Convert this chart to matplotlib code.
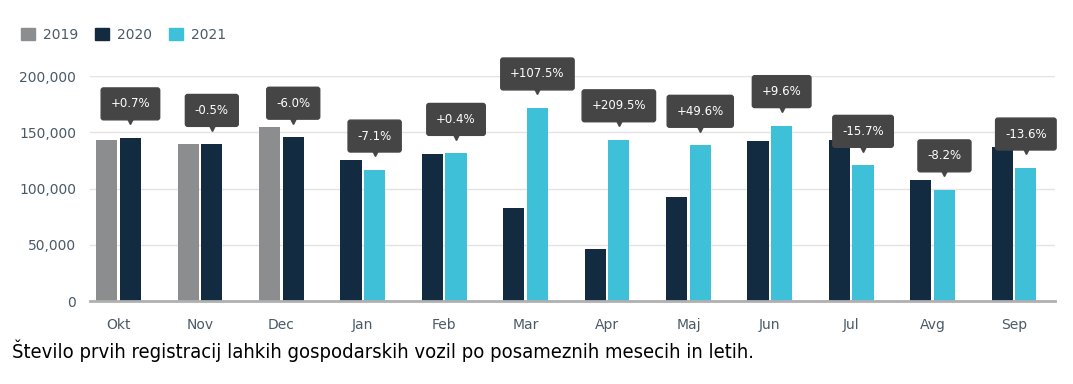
import matplotlib
matplotlib.use("Agg")
import matplotlib.pyplot as plt
import numpy as np
from matplotlib.patches import Patch
from matplotlib.transforms import offset_copy

months = ["Okt", "Nov", "Dec", "Jan", "Feb", "Mar", "Apr", "Maj", "Jun", "Jul", "Avg", "Sep"]
# values per month (left bar = previous year, right bar = following year)
sales_2019 = [143000, 139600, 154700, None, None, None, None, None, None, None, None, None]
sales_2020_a = [145000, 139200, 145600, None, None, None, None, None, None, None, None, None]
sales_2020_b = [None, None, None, 125300, 130700, 82700, 46300, 92500, 142200, 143100, 107600, 136800]
sales_2021 = [None, None, None, 116400, 131200, 171600, 143300, 138400, 155900, 120600, 98800, 118200]
changes = ["+0.7%", "-0.5%", "-6.0%", "-7.1%", "+0.4%", "+107.5%", "+209.5%",
           "+49.6%", "+9.6%", "-15.7%", "-8.2%", "-13.6%"]

c2019 = "#8b8d8f"
c2020 = "#132b40"
c2021 = "#3ec0d8"
txt = "#4b5a66"
box = "#454545"

fig = plt.figure(figsize=(10.73, 3.84), dpi=100)
ax = fig.add_axes([0.084, 0.216, 0.899, 0.586])

x = np.arange(len(months))
w = 0.26
off = 0.145

pointer = offset_copy(ax.transData, fig, x=0, y=12, units="points")

for i in range(len(months)):
    if sales_2019[i] is not None:
        ax.bar(x[i] - off, sales_2019[i], w, color=c2019, zorder=2)
        ax.bar(x[i] + off, sales_2020_a[i], w, color=c2020, zorder=2)
        right = sales_2020_a[i]
    else:
        ax.bar(x[i] - off, sales_2020_b[i], w, color=c2020, zorder=2)
        ax.bar(x[i] + off, sales_2021[i], w, color=c2021, zorder=2)
        right = sales_2021[i]
    # change label box with small pointer
    ax.annotate(changes[i], xy=(x[i] + off, right), xytext=(0, 24.5),
                textcoords="offset points", ha="center", va="center",
                color="white", fontsize=8.5,
                bbox=dict(boxstyle="round,pad=0.8,rounding_size=0.2", fc=box, ec=box),
                annotation_clip=False, zorder=5)
    ax.plot([x[i] + off], [right], marker="v", markersize=5, color=box,
            transform=pointer, clip_on=False, zorder=5)

ax.set_xlim(-0.35, 11.5)
ax.set_ylim(0, 200000)
ax.set_yticks([0, 50000, 100000, 150000, 200000])
ax.set_yticklabels(["0", "50,000", "100,000", "150,000", "200,000"], color=txt, fontsize=10)
ax.set_xticks(x)
ax.set_xticklabels(months, color=txt, fontsize=10)
ax.tick_params(axis="both", length=0)
ax.tick_params(axis="x", pad=12)
ax.tick_params(axis="y", pad=10)
ax.grid(axis="y", color="#e3e3e3", linewidth=1, zorder=0)
for s in ["top", "right", "left"]:
    ax.spines[s].set_visible(False)
ax.spines["bottom"].set_color("#b0b0b0")
ax.spines["bottom"].set_linewidth(2)

handles = [Patch(color=c2019, label="2019"), Patch(color=c2020, label="2020"), Patch(color=c2021, label="2021")]
leg = fig.legend(handles=handles, loc="upper left", bbox_to_anchor=(0.008, 0.96), ncol=3,
                 frameon=False, fontsize=10, handlelength=1.0, handleheight=1.0,
                 handletextpad=0.6, columnspacing=1.2)
for t in leg.get_texts():
    t.set_color(txt)

fig.text(0.011, 0.068, "Število prvih registracij lahkih gospodarskih vozil po posameznih mesecih in letih.",
         fontsize=14.5, color="black", family="DejaVu Sans", stretch="condensed")

fig.savefig("out.png", dpi=100)
